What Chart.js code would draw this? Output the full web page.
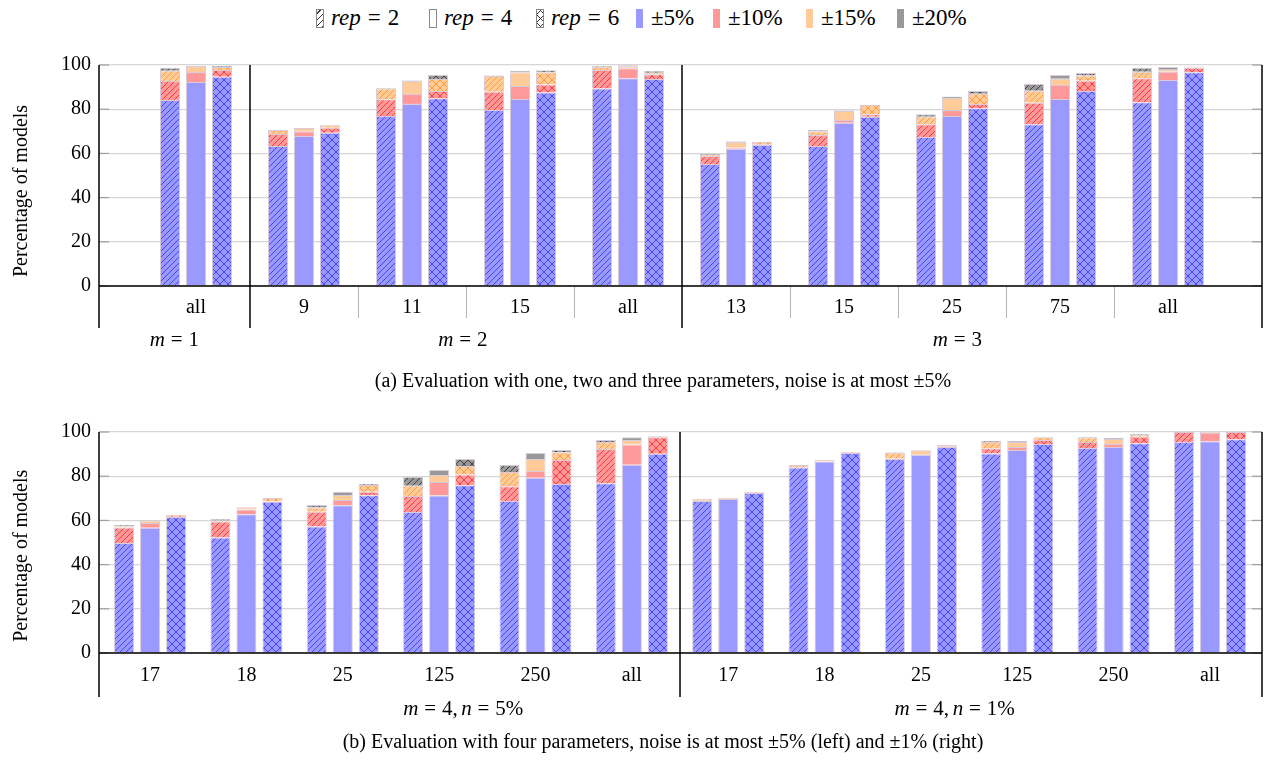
<!DOCTYPE html>
<html><head><meta charset="utf-8">
<script src="https://cdn.jsdelivr.net/npm/chart.js@4.4.0/dist/chart.umd.min.js"></script>
<style>
html,body{margin:0;padding:0;background:#fff;width:1270px;height:764px;overflow:hidden;font-family:"Liberation Serif","Times New Roman",serif;color:#000;}
#wrap{position:relative;width:1270px;height:764px;}
canvas{position:absolute;left:0;}
#cA{top:40px;}
#cB{top:400px;}
.li{position:absolute;top:3px;height:30px;line-height:30px;font-size:23px;white-space:nowrap;font-family:"Liberation Serif","Times New Roman",serif;}
.ic{position:absolute;top:6px;width:8px;height:19px;box-sizing:border-box;}
.tx{position:absolute;left:15px;top:0;}
.eq{margin:0 7px;}
.cap{position:absolute;left:0;width:1326px;text-align:center;font-size:20px;white-space:nowrap;font-family:"Liberation Serif","Times New Roman",serif;}
</style>
</head><body><div id="wrap">
<div class="li" style="left:316px"><div class="ic" style="border:1px solid #888;background:#fff repeating-linear-gradient(135deg,#fff 0 2px,#333 2px 3px,#fff 3px 4.5px);"></div><span class="tx"><i>rep</i><span class="eq">=</span>2</span></div>
<div class="li" style="left:429px"><div class="ic" style="border:1px solid #888;background:#fff;"></div><span class="tx"><i>rep</i><span class="eq">=</span>4</span></div>
<div class="li" style="left:536px"><div class="ic" style="border:1px solid #888;background:repeating-linear-gradient(135deg,transparent 0 2.5px,#333 2.5px 3.5px,transparent 3.5px 5.5px),repeating-linear-gradient(45deg,#fff 0 2.5px,#333 2.5px 3.5px,#fff 3.5px 5.5px);"></div><span class="tx"><i>rep</i><span class="eq">=</span>6</span></div>
<div class="li" style="left:636px"><div class="ic" style="background:#9999ff;width:7px;"></div><span class="tx">±5%</span></div>
<div class="li" style="left:713px"><div class="ic" style="background:#ff9999;width:7px;"></div><span class="tx">±10%</span></div>
<div class="li" style="left:806px"><div class="ic" style="background:#ffcc99;width:7px;"></div><span class="tx">±15%</span></div>
<div class="li" style="left:897px"><div class="ic" style="background:#999999;width:7px;"></div><span class="tx">±20%</span></div>
<canvas id="cA" width="1270" height="360"></canvas>
<canvas id="cB" width="1270" height="364"></canvas>
<div class="cap" style="top:369px">(a) Evaluation with one, two and three parameters, noise is at most ±5%</div>
<div class="cap" style="top:730px">(b) Evaluation with four parameters, noise is at most ±5% (left) and ±1% (right)</div>
</div>
<script>
// ---------- DATA ----------
const tolLabels = ['±5%', '±10%', '±15%', '±20%'];
const repLabels = ['rep = 2', 'rep = 4', 'rep = 6'];

// (a) one, two and three parameters
const catsA = ['all', '9', '11', '15', 'all', '13', '15', '25', '75', 'all'];
const a_rep2_5  = [84.2, 63.3, 76.9, 79.6, 89.4, 55.2, 63.3, 67.4, 73.2, 83.1];
const a_rep2_10 = [8.6, 5.5, 7.6, 8.3, 8.3, 3.6, 5.0, 5.8, 9.7, 10.9];
const a_rep2_15 = [4.6, 1.8, 4.9, 7.1, 1.5, 0.5, 1.7, 3.4, 5.5, 3.0];
const a_rep2_20 = [1.4, 0.0, 0.3, 0.3, 0.5, 0.4, 0.6, 1.1, 3.0, 1.8];
const a_rep4_5  = [92.3, 67.9, 82.4, 84.6, 94.0, 62.1, 73.9, 76.9, 84.6, 93.2];
const a_rep4_10 = [4.5, 2.1, 4.5, 5.9, 4.5, 0.5, 1.2, 2.7, 6.4, 3.8];
const a_rep4_15 = [2.7, 1.5, 5.9, 6.2, 0.9, 2.6, 4.1, 5.5, 2.8, 0.9];
const a_rep4_20 = [0.0, 0.0, 0.2, 0.7, 0.5, 0.2, 0.2, 0.7, 1.7, 1.2];
const a_rep6_5  = [94.7, 69.4, 84.9, 87.6, 93.7, 63.8, 76.6, 80.4, 88.2, 96.7];
const a_rep6_10 = [3.0, 2.2, 3.3, 3.6, 2.1, 0.3, 1.1, 2.0, 4.7, 2.1];
const a_rep6_15 = [1.4, 1.1, 5.5, 5.5, 0.7, 1.1, 4.2, 4.6, 2.3, 0.2];
const a_rep6_20 = [0.4, 0.3, 1.8, 0.9, 0.8, 0.0, 0.0, 1.2, 1.2, 0.3];
const groupsA = [['m', '=', '1'], ['m', '=', '2'], ['m', '=', '3']];

// (b) four parameters
const catsB = ['17', '18', '25', '125', '250', 'all', '17', '18', '25', '125', '250', 'all'];
const b_rep2_5  = [49.8, 52.3, 57.2, 63.8, 68.8, 76.8, 68.8, 83.9, 87.8, 90.3, 92.8, 95.5];
const b_rep2_10 = [7.0, 7.2, 6.7, 7.2, 6.6, 15.5, 0.1, 0.3, 0.2, 2.3, 2.7, 4.5];
const b_rep2_15 = [0.6, 0.4, 1.9, 4.7, 6.5, 3.2, 0.8, 0.9, 2.6, 2.9, 2.0, 0.0];
const b_rep2_20 = [0.5, 0.7, 1.2, 3.9, 3.2, 0.9, 0.0, 0.0, 0.2, 0.4, 0.4, 0.0];
const b_rep4_5  = [56.7, 62.8, 66.8, 71.3, 79.3, 85.2, 69.7, 86.6, 89.6, 91.9, 93.2, 95.8];
const b_rep4_10 = [2.1, 2.1, 2.4, 6.1, 3.1, 9.2, 0.0, 0.0, 0.3, 1.3, 1.4, 3.7];
const b_rep4_15 = [1.1, 1.0, 2.3, 3.1, 5.4, 2.0, 0.5, 0.7, 1.8, 2.3, 2.2, 0.5];
const b_rep4_20 = [0.0, 0.0, 1.5, 2.3, 2.7, 1.2, 0.0, 0.0, 0.0, 0.4, 0.5, 0.0];
const b_rep6_5  = [61.5, 68.4, 71.4, 75.9, 76.5, 90.2, 72.4, 90.5, 93.2, 94.6, 94.9, 96.7];
const b_rep6_10 = [0.5, 0.3, 1.6, 4.9, 10.8, 7.4, 0.3, 0.3, 0.3, 1.8, 3.0, 3.3];
const b_rep6_15 = [0.5, 1.4, 3.0, 3.8, 3.5, 0.5, 0.3, 0.2, 0.6, 1.2, 0.9, 0.0];
const b_rep6_20 = [0.0, 0.1, 0.5, 3.2, 1.1, 0.1, 0.0, 0.0, 0.0, 0.3, 0.3, 0.0];
const groupsB = [['m', '=', '4', ',', 'n', '=', '5%'], ['m', '=', '4', ',', 'n', '=', '1%']];

const yTicks = [0, 20, 40, 60, 80, 100];

// ---------- STYLE ----------
const FONT = '"Liberation Serif", "Times New Roman", serif';
const fills = ['#9999ff', '#ff9999', '#ffcc99', '#999999'];
const hatch = ['#2a2aff', '#ff1a1a', '#ff8c1a', '#222222'];

function makePattern(bg, fg, type) {
  const s = type === 'ne' ? 6 : 8;
  const c = document.createElement('canvas');
  c.width = s; c.height = s;
  const g = c.getContext('2d');
  g.fillStyle = bg; g.fillRect(0, 0, s, s);
  if (type) {
    g.strokeStyle = fg; g.lineWidth = 0.9; g.globalAlpha = 0.85;
    g.beginPath();
    g.moveTo(0, s); g.lineTo(s, 0);
    g.moveTo(-1, 1); g.lineTo(1, -1);
    g.moveTo(s - 1, s + 1); g.lineTo(s + 1, s - 1);
    if (type === 'cross') {
      g.moveTo(0, 0); g.lineTo(s, s);
      g.moveTo(-1, s - 1); g.lineTo(1, s + 1);
      g.moveTo(s - 1, -1); g.lineTo(s + 1, 1);
    }
    g.stroke();
  }
  return g.createPattern(c, 'repeat');
}
const styles = {
  r2: fills.map((f, i) => makePattern(f, hatch[i], 'ne')),
  r4: fills.slice(),
  r6: fills.map((f, i) => makePattern(f, hatch[i], 'cross'))
};

function buildDatasets(series, catPct) {
  const ds = [];
  ['r2', 'r4', 'r6'].forEach((rep, ri) => {
    series[ri].forEach((arr, ti) => {
      ds.push({
        label: repLabels[ri] + ' ' + tolLabels[ti],
        stack: rep,
        data: arr.map((v, i) => ({ x: i, y: v })),
        backgroundColor: styles[rep][ti],
        borderColor: 'rgba(205,185,205,0.75)',
        borderWidth: c => (c.raw && c.raw.y > 0 ? 1 : 0),
        categoryPercentage: catPct,
        barPercentage: 0.77
      });
    });
  });
  return ds;
}

function drawMath(ctx, tokens, cx, cy, size) {
  const parts = [];
  tokens.forEach(t => {
    const italic = /^[a-z]$/.test(t);
    let pre = 0, post = 0;
    if (t === '=') { pre = 0.28 * size; post = 0.28 * size; }
    if (t === ',') { post = 0.17 * size; }
    ctx.font = (italic ? 'italic ' : '') + size + 'px ' + FONT;
    parts.push({ t, font: ctx.font, pre, post, w: ctx.measureText(t).width });
  });
  const total = parts.reduce((s, p) => s + p.pre + p.w + p.post, 0);
  let x = cx - total / 2;
  ctx.textBaseline = 'middle'; ctx.textAlign = 'left'; ctx.fillStyle = '#000';
  parts.forEach(p => { x += p.pre; ctx.font = p.font; ctx.fillText(p.t, x, cy); x += p.w + p.post; });
}

const extras = {
  id: 'extras',
  afterDraw(chart, args, o) {
    const { ctx, chartArea: a, scales: { x, y } } = chart;
    const y0 = y.getPixelForValue(0);
    const ln = (x1, y1, x2, y2) => { ctx.beginPath(); ctx.moveTo(x1, y1); ctx.lineTo(x2, y2); ctx.stroke(); };
    ctx.save();
    ctx.strokeStyle = '#a0a0a0'; ctx.lineWidth = 1.2;
    yTicks.forEach(v => {
      const py = y.getPixelForValue(v);
      ln(a.left, py, a.left + 10, py); ln(a.right - 10, py, a.right, py);
    });
    ctx.strokeStyle = '#b5b5b5'; ctx.lineWidth = 1;
    o.minor.forEach(v => { const px = Math.round(x.getPixelForValue(v)) + 0.5; ln(px, y0, px, y0 + 32); });
    ctx.strokeStyle = '#000'; ctx.lineWidth = 1.5;
    ln(a.left, y0, a.right, y0);
    [x.min, ...o.dividers, x.max].forEach(v => { const px = x.getPixelForValue(v); ln(px, a.top, px, o.extBottom); });
    o.groups.forEach((g, i) => drawMath(ctx, g, x.getPixelForValue(o.groupPos[i]), o.groupY, 21));
    ctx.translate(22, y.getPixelForValue(o.titleVal));
    ctx.rotate(-Math.PI / 2);
    ctx.font = '20px ' + FONT; ctx.textAlign = 'center'; ctx.textBaseline = 'middle'; ctx.fillStyle = '#000';
    ctx.fillText('Percentage of models', 0, 0);
    ctx.restore();
  }
};

function makeChart(id, cats, series, cfg) {
  return new Chart(document.getElementById(id), {
    type: 'bar',
    data: { datasets: buildDatasets(series, cfg.catPct) },
    plugins: [extras],
    options: {
      responsive: false, animation: false,
      layout: { padding: { top: cfg.padTop, right: 8, left: 0, bottom: 0 } },
      plugins: { legend: { display: false }, tooltip: { enabled: false }, extras: cfg.extras },
      scales: {
        x: {
          type: 'linear', min: cfg.xmin, max: cfg.xmax, offset: false,
          grid: { display: false }, border: { display: false },
          afterBuildTicks: s => { s.ticks = cats.map((_, i) => ({ value: i })); },
          afterFit: s => { s.height = cfg.xh; },
          ticks: { autoSkip: false, maxRotation: 0, padding: cfg.tickPad, color: '#000', font: { family: FONT, size: 20 },
                   callback: v => cats[v] }
        },
        y: {
          stacked: true, min: 0, max: 100,
          afterBuildTicks: s => { s.ticks = yTicks.map(v => ({ value: v })); },
          afterFit: s => { s.width = 99; },
          grid: { color: '#d6d6d6', lineWidth: 1.3, drawTicks: false }, border: { display: false },
          ticks: { padding: 8, color: '#000', font: { family: FONT, size: 20 } }
        }
      }
    }
  });
}

makeChart('cA', catsA,
  [[a_rep2_5, a_rep2_10, a_rep2_15, a_rep2_20],
   [a_rep4_5, a_rep4_10, a_rep4_15, a_rep4_20],
   [a_rep6_5, a_rep6_10, a_rep6_15, a_rep6_20]],
  { catPct: 0.722, padTop: 25, xh: 114, xmin: -0.898, xmax: 9.87, tickPad: 2,
    extras: { dividers: [0.5, 4.5], minor: [1.5, 2.5, 3.5, 5.5, 6.5, 7.5, 8.5], extBottom: 288,
              groups: groupsA, groupPos: [-0.2, 2.47, 7.05], groupY: 300, titleVal: 43 } });

makeChart('cB', catsB,
  [[b_rep2_5, b_rep2_10, b_rep2_15, b_rep2_20],
   [b_rep4_5, b_rep4_10, b_rep4_15, b_rep4_20],
   [b_rep6_5, b_rep6_10, b_rep6_15, b_rep6_20]],
  { catPct: 0.81, padTop: 32, xh: 111, xmin: -0.53, xmax: 11.54, tickPad: 3,
    extras: { dividers: [5.5], minor: [], extBottom: 297,
              groups: groupsB, groupPos: [3.25, 8.35], groupY: 309, titleVal: 44 } });
</script>
</body></html>
